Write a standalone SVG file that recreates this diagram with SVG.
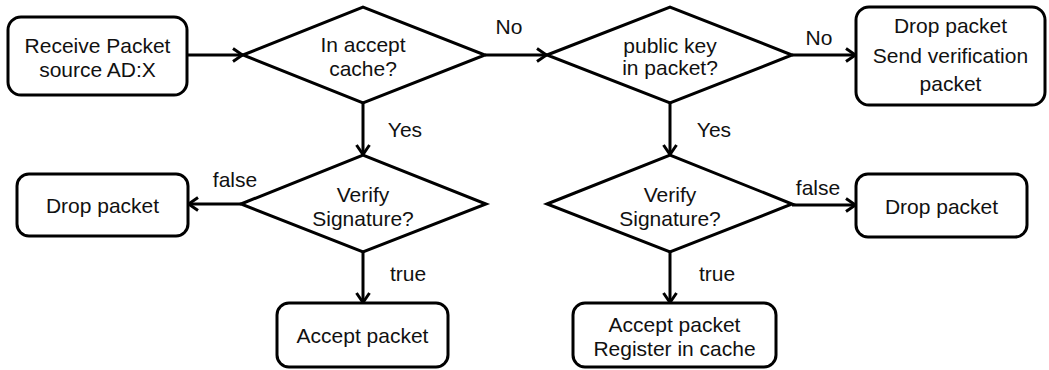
<svg xmlns="http://www.w3.org/2000/svg" width="1049" height="370" viewBox="0 0 1049 370">
  <style>
    .box { fill: #fff; stroke: #000; stroke-width: 3; }
    .dia { fill: #fff; stroke: #000; stroke-width: 3; stroke-linejoin: miter; }
    .edge { fill: none; stroke: #000; stroke-width: 3; marker-end: url(#arr); }
    text { font-family: "Liberation Sans", Arial, sans-serif; font-size: 21px; fill: #111; text-anchor: middle; }
  </style>
  <defs>
    <marker id="arr" viewBox="-12 -8 14 16" markerWidth="14" markerHeight="16" refX="0" refY="0" orient="auto" markerUnits="userSpaceOnUse">
      <path d="M-10,-6.5 L-0.5,0 L-10,6.5" fill="none" stroke="#000" stroke-width="3"/>
    </marker>
  </defs>
  <rect width="1049" height="370" fill="#fff"/>

  <g id="connectors">
    <line class="edge" x1="187" y1="55" x2="243" y2="55"/>
    <line class="edge" x1="485" y1="55" x2="547" y2="55"/>
    <line class="edge" x1="792" y1="55" x2="856" y2="55"/>
    <line class="edge" x1="363" y1="103" x2="363" y2="155"/>
    <line class="edge" x1="670" y1="103" x2="670" y2="155"/>
    <line class="edge" x1="241" y1="204" x2="188" y2="204"/>
    <line class="edge" x1="792" y1="205" x2="856" y2="205"/>
    <line class="edge" x1="363" y1="252" x2="363" y2="303"/>
    <line class="edge" x1="670" y1="252" x2="670" y2="303"/>
    <text x="509" y="34">No</text>
    <text x="819" y="45">No</text>
    <text x="405" y="137">Yes</text>
    <text x="714" y="137">Yes</text>
    <text x="235" y="187">false</text>
    <text x="818" y="195">false</text>
    <text x="408" y="281">true</text>
    <text x="717" y="281">true</text>
  </g>

  <g id="receive">
    <rect class="box" x="8" y="17" width="179" height="78" rx="13"/>
    <text x="97.5" y="53">Receive Packet</text>
    <text x="97.5" y="77">source AD:X</text>
  </g>

  <g id="in-cache">
    <polygon class="dia" points="243,55 363,7 485,55 363,103"/>
    <text x="363" y="52">In accept</text>
    <text x="363" y="76">cache?</text>
  </g>

  <g id="has-key">
    <polygon class="dia" points="547,55 670,7 792,55 670,103"/>
    <text x="670" y="53">public key</text>
    <text x="670" y="75">in packet?</text>
  </g>

  <g id="drop-send">
    <rect class="box" x="856" y="7" width="189" height="98" rx="13"/>
    <text x="950.5" y="33">Drop packet</text>
    <text x="950.5" y="63">Send verification</text>
    <text x="950.5" y="91">packet</text>
  </g>

  <g id="verify-1">
    <polygon class="dia" points="241,204 363,155 486,204 363,252"/>
    <text x="363" y="202">Verify</text>
    <text x="363" y="226">Signature?</text>
  </g>

  <g id="verify-2">
    <polygon class="dia" points="547,204 670,155 792,204 670,252"/>
    <text x="670" y="202">Verify</text>
    <text x="670" y="226">Signature?</text>
  </g>

  <g id="drop-1">
    <rect class="box" x="17" y="174" width="171" height="62" rx="12"/>
    <text x="102.5" y="213">Drop packet</text>
  </g>

  <g id="drop-2">
    <rect class="box" x="856" y="174" width="171" height="63" rx="12"/>
    <text x="941.5" y="214">Drop packet</text>
  </g>

  <g id="accept">
    <rect class="box" x="277" y="303" width="171" height="64" rx="12"/>
    <text x="362.5" y="343">Accept packet</text>
  </g>

  <g id="accept-register">
    <rect class="box" x="573" y="303" width="203" height="64" rx="12"/>
    <text x="674.5" y="332">Accept packet</text>
    <text x="674.5" y="356">Register in cache</text>
  </g>
</svg>
